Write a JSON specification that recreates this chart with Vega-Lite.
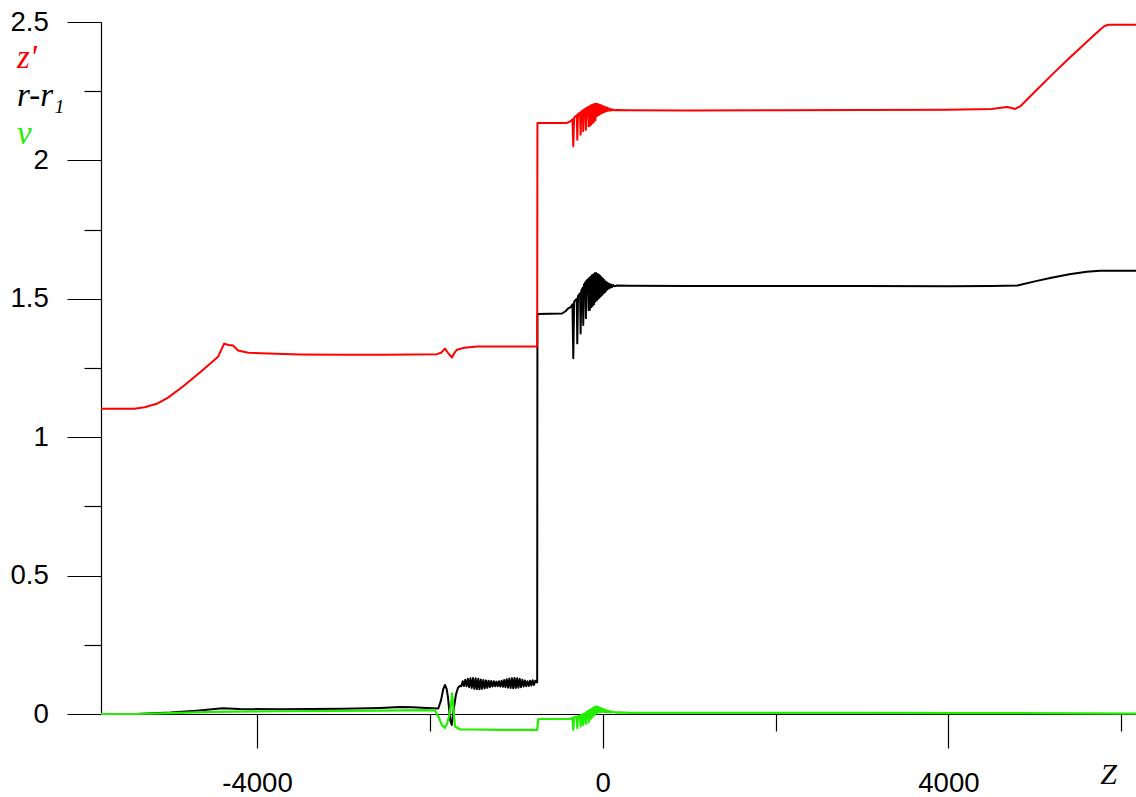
{
  "$schema": "https://vega.github.io/schema/vega-lite/v6.json",
  "width": 1035,
  "height": 692,
  "autosize": "none",
  "padding": {"left": 101, "top": 22, "right": 0, "bottom": 83},
  "background": "white",
  "config": {"view": {"stroke": null}},
  "datasets": {
    "main": [
      {"series": "r-r₁", "Z": -5805, "val": 0},
      {"series": "r-r₁", "Z": -5400, "val": 0.0},
      {"series": "r-r₁", "Z": -5000, "val": 0.005},
      {"series": "r-r₁", "Z": -4700, "val": 0.012},
      {"series": "r-r₁", "Z": -4400, "val": 0.021},
      {"series": "r-r₁", "Z": -4200, "val": 0.018},
      {"series": "r-r₁", "Z": -3733, "val": 0.017},
      {"series": "r-r₁", "Z": -3000, "val": 0.019},
      {"series": "r-r₁", "Z": -2577, "val": 0.022},
      {"series": "r-r₁", "Z": -2345, "val": 0.025},
      {"series": "r-r₁", "Z": -2195, "val": 0.024},
      {"series": "r-r₁", "Z": -2033, "val": 0.022},
      {"series": "r-r₁", "Z": -1902, "val": 0.02},
      {"series": "r-r₁", "Z": -1870, "val": 0.05},
      {"series": "r-r₁", "Z": -1845, "val": 0.09},
      {"series": "r-r₁", "Z": -1825, "val": 0.105},
      {"series": "r-r₁", "Z": -1805, "val": 0.09},
      {"series": "r-r₁", "Z": -1790, "val": 0.06},
      {"series": "r-r₁", "Z": -1765, "val": -0.02},
      {"series": "r-r₁", "Z": -1747, "val": -0.04},
      {"series": "r-r₁", "Z": -1732, "val": 0.0},
      {"series": "r-r₁", "Z": -1698, "val": 0.07},
      {"series": "r-r₁", "Z": -1674, "val": 0.095},
      {"series": "r-r₁", "Z": -1650, "val": 0.102},
      {"series": "r-r₁", "Z": -1635, "val": 0.1},
      {"series": "r-r₁", "Z": -1620, "val": 0.118},
      {"series": "r-r₁", "Z": -1605, "val": 0.101},
      {"series": "r-r₁", "Z": -1590, "val": 0.124},
      {"series": "r-r₁", "Z": -1575, "val": 0.1},
      {"series": "r-r₁", "Z": -1560, "val": 0.127},
      {"series": "r-r₁", "Z": -1545, "val": 0.097},
      {"series": "r-r₁", "Z": -1530, "val": 0.129},
      {"series": "r-r₁", "Z": -1515, "val": 0.094},
      {"series": "r-r₁", "Z": -1500, "val": 0.13},
      {"series": "r-r₁", "Z": -1485, "val": 0.091},
      {"series": "r-r₁", "Z": -1470, "val": 0.129},
      {"series": "r-r₁", "Z": -1455, "val": 0.09},
      {"series": "r-r₁", "Z": -1440, "val": 0.127},
      {"series": "r-r₁", "Z": -1425, "val": 0.089},
      {"series": "r-r₁", "Z": -1410, "val": 0.125},
      {"series": "r-r₁", "Z": -1395, "val": 0.091},
      {"series": "r-r₁", "Z": -1380, "val": 0.123},
      {"series": "r-r₁", "Z": -1365, "val": 0.093},
      {"series": "r-r₁", "Z": -1350, "val": 0.121},
      {"series": "r-r₁", "Z": -1335, "val": 0.095},
      {"series": "r-r₁", "Z": -1320, "val": 0.12},
      {"series": "r-r₁", "Z": -1305, "val": 0.097},
      {"series": "r-r₁", "Z": -1290, "val": 0.119},
      {"series": "r-r₁", "Z": -1275, "val": 0.099},
      {"series": "r-r₁", "Z": -1260, "val": 0.118},
      {"series": "r-r₁", "Z": -1245, "val": 0.1},
      {"series": "r-r₁", "Z": -1230, "val": 0.117},
      {"series": "r-r₁", "Z": -1215, "val": 0.1},
      {"series": "r-r₁", "Z": -1200, "val": 0.118},
      {"series": "r-r₁", "Z": -1185, "val": 0.099},
      {"series": "r-r₁", "Z": -1170, "val": 0.12},
      {"series": "r-r₁", "Z": -1155, "val": 0.098},
      {"series": "r-r₁", "Z": -1140, "val": 0.123},
      {"series": "r-r₁", "Z": -1125, "val": 0.097},
      {"series": "r-r₁", "Z": -1110, "val": 0.126},
      {"series": "r-r₁", "Z": -1095, "val": 0.095},
      {"series": "r-r₁", "Z": -1080, "val": 0.128},
      {"series": "r-r₁", "Z": -1065, "val": 0.094},
      {"series": "r-r₁", "Z": -1050, "val": 0.129},
      {"series": "r-r₁", "Z": -1035, "val": 0.093},
      {"series": "r-r₁", "Z": -1020, "val": 0.13},
      {"series": "r-r₁", "Z": -1005, "val": 0.094},
      {"series": "r-r₁", "Z": -990, "val": 0.129},
      {"series": "r-r₁", "Z": -975, "val": 0.095},
      {"series": "r-r₁", "Z": -960, "val": 0.127},
      {"series": "r-r₁", "Z": -945, "val": 0.097},
      {"series": "r-r₁", "Z": -930, "val": 0.124},
      {"series": "r-r₁", "Z": -915, "val": 0.099},
      {"series": "r-r₁", "Z": -900, "val": 0.121},
      {"series": "r-r₁", "Z": -885, "val": 0.1},
      {"series": "r-r₁", "Z": -870, "val": 0.118},
      {"series": "r-r₁", "Z": -855, "val": 0.101},
      {"series": "r-r₁", "Z": -840, "val": 0.12},
      {"series": "r-r₁", "Z": -825, "val": 0.103},
      {"series": "r-r₁", "Z": -810, "val": 0.122},
      {"series": "r-r₁", "Z": -795, "val": 0.105},
      {"series": "r-r₁", "Z": -780, "val": 0.12},
      {"series": "r-r₁", "Z": -758, "val": 0.114},
      {"series": "r-r₁", "Z": -755, "val": 1.445},
      {"series": "r-r₁", "Z": -470, "val": 1.447},
      {"series": "r-r₁", "Z": -430, "val": 1.455},
      {"series": "r-r₁", "Z": -400, "val": 1.465},
      {"series": "r-r₁", "Z": -370, "val": 1.47},
      {"series": "r-r₁", "Z": -350, "val": 1.48},
      {"series": "r-r₁", "Z": -340, "val": 1.285},
      {"series": "r-r₁", "Z": -330, "val": 1.49},
      {"series": "r-r₁", "Z": -300, "val": 1.5},
      {"series": "r-r₁", "Z": -294, "val": 1.339},
      {"series": "r-r₁", "Z": -285, "val": 1.51},
      {"series": "r-r₁", "Z": -262, "val": 1.52},
      {"series": "r-r₁", "Z": -255, "val": 1.375},
      {"series": "r-r₁", "Z": -247, "val": 1.53},
      {"series": "r-r₁", "Z": -230, "val": 1.54},
      {"series": "r-r₁", "Z": -225, "val": 1.405},
      {"series": "r-r₁", "Z": -218, "val": 1.55},
      {"series": "r-r₁", "Z": -200, "val": 1.56},
      {"series": "r-r₁", "Z": -194, "val": 1.43},
      {"series": "r-r₁", "Z": -188, "val": 1.565},
      {"series": "r-r₁", "Z": -170, "val": 1.57},
      {"series": "r-r₁", "Z": -162, "val": 1.459},
      {"series": "r-r₁", "Z": -156, "val": 1.575},
      {"series": "r-r₁", "Z": -148, "val": 1.46},
      {"series": "r-r₁", "Z": -140, "val": 1.58},
      {"series": "r-r₁", "Z": -132, "val": 1.47},
      {"series": "r-r₁", "Z": -124, "val": 1.585},
      {"series": "r-r₁", "Z": -116, "val": 1.475},
      {"series": "r-r₁", "Z": -108, "val": 1.588},
      {"series": "r-r₁", "Z": -100, "val": 1.48},
      {"series": "r-r₁", "Z": -92, "val": 1.592},
      {"series": "r-r₁", "Z": -84, "val": 1.49},
      {"series": "r-r₁", "Z": -76, "val": 1.593},
      {"series": "r-r₁", "Z": -68, "val": 1.495},
      {"series": "r-r₁", "Z": -60, "val": 1.59},
      {"series": "r-r₁", "Z": -52, "val": 1.5},
      {"series": "r-r₁", "Z": -44, "val": 1.587},
      {"series": "r-r₁", "Z": -36, "val": 1.505},
      {"series": "r-r₁", "Z": -28, "val": 1.582},
      {"series": "r-r₁", "Z": -20, "val": 1.51},
      {"series": "r-r₁", "Z": -12, "val": 1.577},
      {"series": "r-r₁", "Z": -4, "val": 1.515},
      {"series": "r-r₁", "Z": 4, "val": 1.572},
      {"series": "r-r₁", "Z": 12, "val": 1.52},
      {"series": "r-r₁", "Z": 20, "val": 1.567},
      {"series": "r-r₁", "Z": 28, "val": 1.525},
      {"series": "r-r₁", "Z": 36, "val": 1.562},
      {"series": "r-r₁", "Z": 44, "val": 1.53},
      {"series": "r-r₁", "Z": 52, "val": 1.558},
      {"series": "r-r₁", "Z": 60, "val": 1.535},
      {"series": "r-r₁", "Z": 68, "val": 1.555},
      {"series": "r-r₁", "Z": 76, "val": 1.538},
      {"series": "r-r₁", "Z": 84, "val": 1.553},
      {"series": "r-r₁", "Z": 92, "val": 1.541},
      {"series": "r-r₁", "Z": 100, "val": 1.551},
      {"series": "r-r₁", "Z": 110, "val": 1.543},
      {"series": "r-r₁", "Z": 120, "val": 1.55},
      {"series": "r-r₁", "Z": 135, "val": 1.545},
      {"series": "r-r₁", "Z": 162, "val": 1.548},
      {"series": "r-r₁", "Z": 300, "val": 1.547},
      {"series": "r-r₁", "Z": 1000, "val": 1.546},
      {"series": "r-r₁", "Z": 2000, "val": 1.546},
      {"series": "r-r₁", "Z": 3000, "val": 1.546},
      {"series": "r-r₁", "Z": 4000, "val": 1.545},
      {"series": "r-r₁", "Z": 4500, "val": 1.546},
      {"series": "r-r₁", "Z": 4800, "val": 1.548},
      {"series": "r-r₁", "Z": 5000, "val": 1.563},
      {"series": "r-r₁", "Z": 5178, "val": 1.575},
      {"series": "r-r₁", "Z": 5400, "val": 1.589},
      {"series": "r-r₁", "Z": 5600, "val": 1.598},
      {"series": "r-r₁", "Z": 5754, "val": 1.601},
      {"series": "r-r₁", "Z": 6171, "val": 1.601},

      {"series": "z'", "Z": -5805, "val": 1.103},
      {"series": "z'", "Z": -5420, "val": 1.103},
      {"series": "z'", "Z": -5300, "val": 1.108},
      {"series": "z'", "Z": -5150, "val": 1.122},
      {"series": "z'", "Z": -5029, "val": 1.143},
      {"series": "z'", "Z": -4850, "val": 1.185},
      {"series": "z'", "Z": -4647, "val": 1.237},
      {"series": "z'", "Z": -4450, "val": 1.291},
      {"series": "z'", "Z": -4380, "val": 1.338},
      {"series": "z'", "Z": -4330, "val": 1.333},
      {"series": "z'", "Z": -4277, "val": 1.331},
      {"series": "z'", "Z": -4219, "val": 1.313},
      {"series": "z'", "Z": -4100, "val": 1.305},
      {"series": "z'", "Z": -3872, "val": 1.302},
      {"series": "z'", "Z": -3500, "val": 1.299},
      {"series": "z'", "Z": -3000, "val": 1.298},
      {"series": "z'", "Z": -2500, "val": 1.298},
      {"series": "z'", "Z": -1917, "val": 1.3},
      {"series": "z'", "Z": -1870, "val": 1.305},
      {"series": "z'", "Z": -1825, "val": 1.32},
      {"series": "z'", "Z": -1790, "val": 1.305},
      {"series": "z'", "Z": -1744, "val": 1.288},
      {"series": "z'", "Z": -1715, "val": 1.305},
      {"series": "z'", "Z": -1686, "val": 1.316},
      {"series": "z'", "Z": -1600, "val": 1.323},
      {"series": "z'", "Z": -1454, "val": 1.328},
      {"series": "z'", "Z": -1000, "val": 1.328},
      {"series": "z'", "Z": -758, "val": 1.328},
      {"series": "z'", "Z": -755, "val": 2.135},
      {"series": "z'", "Z": -417, "val": 2.135},
      {"series": "z'", "Z": -380, "val": 2.14},
      {"series": "z'", "Z": -350, "val": 2.148},
      {"series": "z'", "Z": -340, "val": 2.051},
      {"series": "z'", "Z": -330, "val": 2.155},
      {"series": "z'", "Z": -300, "val": 2.163},
      {"series": "z'", "Z": -294, "val": 2.075},
      {"series": "z'", "Z": -285, "val": 2.168},
      {"series": "z'", "Z": -262, "val": 2.172},
      {"series": "z'", "Z": -255, "val": 2.093},
      {"series": "z'", "Z": -247, "val": 2.177},
      {"series": "z'", "Z": -230, "val": 2.18},
      {"series": "z'", "Z": -225, "val": 2.105},
      {"series": "z'", "Z": -218, "val": 2.183},
      {"series": "z'", "Z": -200, "val": 2.186},
      {"series": "z'", "Z": -194, "val": 2.111},
      {"series": "z'", "Z": -188, "val": 2.189},
      {"series": "z'", "Z": -170, "val": 2.192},
      {"series": "z'", "Z": -162, "val": 2.123},
      {"series": "z'", "Z": -156, "val": 2.195},
      {"series": "z'", "Z": -148, "val": 2.125},
      {"series": "z'", "Z": -140, "val": 2.198},
      {"series": "z'", "Z": -132, "val": 2.13},
      {"series": "z'", "Z": -124, "val": 2.2},
      {"series": "z'", "Z": -116, "val": 2.135},
      {"series": "z'", "Z": -108, "val": 2.202},
      {"series": "z'", "Z": -100, "val": 2.14},
      {"series": "z'", "Z": -92, "val": 2.205},
      {"series": "z'", "Z": -84, "val": 2.145},
      {"series": "z'", "Z": -76, "val": 2.205},
      {"series": "z'", "Z": -68, "val": 2.16},
      {"series": "z'", "Z": -60, "val": 2.204},
      {"series": "z'", "Z": -52, "val": 2.163},
      {"series": "z'", "Z": -44, "val": 2.202},
      {"series": "z'", "Z": -36, "val": 2.166},
      {"series": "z'", "Z": -28, "val": 2.2},
      {"series": "z'", "Z": -20, "val": 2.169},
      {"series": "z'", "Z": -12, "val": 2.198},
      {"series": "z'", "Z": -4, "val": 2.172},
      {"series": "z'", "Z": 4, "val": 2.196},
      {"series": "z'", "Z": 12, "val": 2.174},
      {"series": "z'", "Z": 20, "val": 2.194},
      {"series": "z'", "Z": 28, "val": 2.176},
      {"series": "z'", "Z": 36, "val": 2.192},
      {"series": "z'", "Z": 44, "val": 2.178},
      {"series": "z'", "Z": 52, "val": 2.19},
      {"series": "z'", "Z": 60, "val": 2.179},
      {"series": "z'", "Z": 68, "val": 2.188},
      {"series": "z'", "Z": 76, "val": 2.18},
      {"series": "z'", "Z": 84, "val": 2.186},
      {"series": "z'", "Z": 92, "val": 2.18},
      {"series": "z'", "Z": 100, "val": 2.185},
      {"series": "z'", "Z": 110, "val": 2.181},
      {"series": "z'", "Z": 120, "val": 2.184},
      {"series": "z'", "Z": 135, "val": 2.181},
      {"series": "z'", "Z": 162, "val": 2.182},
      {"series": "z'", "Z": 300, "val": 2.181},
      {"series": "z'", "Z": 1000, "val": 2.18},
      {"series": "z'", "Z": 2000, "val": 2.181},
      {"series": "z'", "Z": 3000, "val": 2.182},
      {"series": "z'", "Z": 4000, "val": 2.183},
      {"series": "z'", "Z": 4500, "val": 2.186},
      {"series": "z'", "Z": 4675, "val": 2.193},
      {"series": "z'", "Z": 4720, "val": 2.19},
      {"series": "z'", "Z": 4771, "val": 2.186},
      {"series": "z'", "Z": 4830, "val": 2.195},
      {"series": "z'", "Z": 5000, "val": 2.248},
      {"series": "z'", "Z": 5200, "val": 2.31},
      {"series": "z'", "Z": 5400, "val": 2.37},
      {"series": "z'", "Z": 5600, "val": 2.428},
      {"series": "z'", "Z": 5754, "val": 2.472},
      {"series": "z'", "Z": 5800, "val": 2.484},
      {"series": "z'", "Z": 5847, "val": 2.49},
      {"series": "z'", "Z": 6171, "val": 2.49}
    ],
    "green": [
      {"series": "v", "Z": -5805, "val": 0},
      {"series": "v", "Z": -5400, "val": 0.0},
      {"series": "v", "Z": -5000, "val": 0.003},
      {"series": "v", "Z": -4507, "val": 0.008},
      {"series": "v", "Z": -3733, "val": 0.01},
      {"series": "v", "Z": -2577, "val": 0.012},
      {"series": "v", "Z": -2033, "val": 0.014},
      {"series": "v", "Z": -1938, "val": 0.012},
      {"series": "v", "Z": -1900, "val": -0.01},
      {"series": "v", "Z": -1860, "val": -0.04},
      {"series": "v", "Z": -1825, "val": -0.05},
      {"series": "v", "Z": -1800, "val": -0.035},
      {"series": "v", "Z": -1779, "val": -0.01},
      {"series": "v", "Z": -1756, "val": 0.03},
      {"series": "v", "Z": -1742, "val": 0.075},
      {"series": "v", "Z": -1730, "val": 0.03},
      {"series": "v", "Z": -1721, "val": -0.01},
      {"series": "v", "Z": -1709, "val": -0.045},
      {"series": "v", "Z": -1651, "val": -0.056},
      {"series": "v", "Z": -1500, "val": -0.056},
      {"series": "v", "Z": -1200, "val": -0.057},
      {"series": "v", "Z": -900, "val": -0.057},
      {"series": "v", "Z": -758, "val": -0.057},
      {"series": "v", "Z": -745, "val": -0.018},
      {"series": "v", "Z": -378, "val": -0.018},
      {"series": "v", "Z": -350, "val": -0.015},
      {"series": "v", "Z": -340, "val": -0.057},
      {"series": "v", "Z": -330, "val": -0.012},
      {"series": "v", "Z": -300, "val": -0.01},
      {"series": "v", "Z": -294, "val": -0.05},
      {"series": "v", "Z": -285, "val": -0.008},
      {"series": "v", "Z": -262, "val": -0.006},
      {"series": "v", "Z": -255, "val": -0.045},
      {"series": "v", "Z": -247, "val": -0.004},
      {"series": "v", "Z": -230, "val": -0.002},
      {"series": "v", "Z": -225, "val": -0.04},
      {"series": "v", "Z": -218, "val": 0.0},
      {"series": "v", "Z": -200, "val": 0.003},
      {"series": "v", "Z": -194, "val": -0.035},
      {"series": "v", "Z": -188, "val": 0.006},
      {"series": "v", "Z": -170, "val": 0.01},
      {"series": "v", "Z": -162, "val": -0.03},
      {"series": "v", "Z": -156, "val": 0.013},
      {"series": "v", "Z": -148, "val": -0.02},
      {"series": "v", "Z": -140, "val": 0.016},
      {"series": "v", "Z": -132, "val": -0.015},
      {"series": "v", "Z": -124, "val": 0.019},
      {"series": "v", "Z": -116, "val": -0.01},
      {"series": "v", "Z": -108, "val": 0.022},
      {"series": "v", "Z": -100, "val": -0.005},
      {"series": "v", "Z": -92, "val": 0.026},
      {"series": "v", "Z": -84, "val": 0.0},
      {"series": "v", "Z": -76, "val": 0.027},
      {"series": "v", "Z": -68, "val": 0.004},
      {"series": "v", "Z": -60, "val": 0.026},
      {"series": "v", "Z": -52, "val": 0.006},
      {"series": "v", "Z": -44, "val": 0.024},
      {"series": "v", "Z": -36, "val": 0.007},
      {"series": "v", "Z": -28, "val": 0.022},
      {"series": "v", "Z": -20, "val": 0.008},
      {"series": "v", "Z": -12, "val": 0.02},
      {"series": "v", "Z": -4, "val": 0.008},
      {"series": "v", "Z": 4, "val": 0.018},
      {"series": "v", "Z": 12, "val": 0.008},
      {"series": "v", "Z": 20, "val": 0.016},
      {"series": "v", "Z": 28, "val": 0.007},
      {"series": "v", "Z": 36, "val": 0.014},
      {"series": "v", "Z": 44, "val": 0.007},
      {"series": "v", "Z": 52, "val": 0.012},
      {"series": "v", "Z": 60, "val": 0.006},
      {"series": "v", "Z": 68, "val": 0.011},
      {"series": "v", "Z": 76, "val": 0.006},
      {"series": "v", "Z": 84, "val": 0.01},
      {"series": "v", "Z": 100, "val": 0.006},
      {"series": "v", "Z": 120, "val": 0.008},
      {"series": "v", "Z": 150, "val": 0.005},
      {"series": "v", "Z": 200, "val": 0.006},
      {"series": "v", "Z": 316, "val": 0.004},
      {"series": "v", "Z": 1000, "val": 0.004},
      {"series": "v", "Z": 2000, "val": 0.004},
      {"series": "v", "Z": 3000, "val": 0.004},
      {"series": "v", "Z": 4000, "val": 0.003},
      {"series": "v", "Z": 4800, "val": 0.003},
      {"series": "v", "Z": 5500, "val": 0.002},
      {"series": "v", "Z": 6171, "val": 0.001}
    ]
  },
  "resolve": {"scale": {"x": "independent", "y": "independent"}},
  "layer": [
    {
      "data": {"name": "main"},
      "mark": {"type": "line", "strokeWidth": 2, "strokeJoin": "round"},
      "encoding": {
        "x": {
          "field": "Z", "type": "quantitative",
          "scale": {"domain": [-5805, 6171], "nice": false, "zero": false},
          "axis": {
            "orient": "bottom", "values": [-4000, 0, 4000], "grid": false,
            "tickSize": 34, "tickWidth": 1.2, "tickColor": "#000",
            "domainColor": "#000", "domainWidth": 1.2,
            "labelExpr": "'' + datum.value", "labelFont": "Liberation Sans", "labelFontSize": 27.6,
            "labelColor": "#000", "labelPadding": 21, "labelFlush": false,
            "title": "Z", "titleFont": "Liberation Serif", "titleFontStyle": "italic",
            "titleFontWeight": "normal", "titleFontSize": 30, "titleColor": "#000",
            "titleX": 1007, "titleY": 69, "titleAlign": "center", "titleBaseline": "alphabetic"
          }
        },
        "y": {
          "field": "val", "type": "quantitative",
          "scale": {"domain": [0, 2.5], "nice": false, "zero": false},
          "axis": {
            "orient": "left", "values": [0, 0.5, 1, 1.5, 2, 2.5], "grid": false,
            "tickSize": 34, "tickWidth": 1.2, "tickColor": "#000",
            "domainColor": "#000", "domainWidth": 1.2,
            "labelExpr": "'' + datum.value", "labelFont": "Liberation Sans", "labelFontSize": 27.6,
            "labelColor": "#000", "labelPadding": 18.7, "labelFlush": false,
            "title": null
          }
        },
        "color": {
          "field": "series", "type": "nominal",
          "scale": {"domain": ["z'", "r-r₁", "v"], "range": ["#ff0000", "#000000", "#22ee00"]},
          "legend": {
            "orient": "none", "legendX": -117, "legendY": 19, "title": null,
            "symbolSize": 0, "symbolStrokeWidth": 0, "symbolOpacity": 0,
            "labelFont": "Liberation Serif", "labelFontStyle": "italic", "labelFontSize": 33,
            "labelOffset": 0, "rowPadding": 4, "padding": 0,
            "labelColor": {"expr": "datum.value === 'v' ? '#22ee00' : (datum.value === 'r-r₁' ? '#000000' : '#ff0000')"}
          }
        }
      }
    },
    {
      "data": {"name": "green"},
      "mark": {"type": "line", "strokeWidth": 2.2, "strokeJoin": "round", "color": "#22ee00"},
      "encoding": {
        "x": {
          "field": "Z", "type": "quantitative",
          "scale": {"domain": [-5805, 6171], "nice": false, "zero": false},
          "axis": {
            "orient": "bottom", "values": [-2000, 2000, 6000], "grid": false,
            "tickSize": 17, "tickWidth": 1.2, "tickColor": "#000",
            "domain": false, "labels": false, "title": null
          }
        },
        "y": {
          "field": "val", "type": "quantitative",
          "scale": {"domain": [0, 2.5], "nice": false, "zero": false},
          "axis": {
            "orient": "left", "values": [0.25, 0.75, 1.25, 1.75, 2.25], "grid": false,
            "tickSize": 17, "tickWidth": 1.2, "tickColor": "#000",
            "domain": false, "labels": false, "title": null
          }
        }
      }
    }
  ]
}
